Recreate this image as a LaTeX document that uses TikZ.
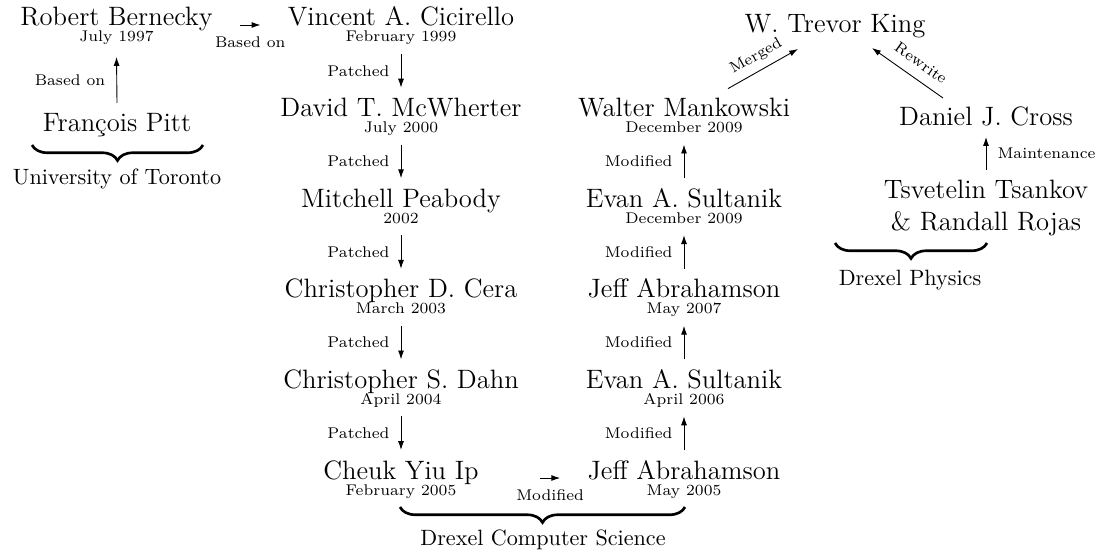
\documentclass[tikz,border=0pt]{standalone}
\usetikzlibrary{arrows.meta,decorations.pathreplacing}
\begin{document}
\begin{tikzpicture}[x=0.4515pt,y=-0.4515pt,
  nm/.style={font=\large, anchor=base, inner sep=0pt},
  dt/.style={font=\scriptsize, anchor=base, inner sep=0pt},
  grplbl/.style={anchor=base, inner sep=0pt},
  lbl/.style={font=\scriptsize, inner sep=5pt},
  arr/.style={-{Latex[length=4pt,width=2.7pt]}},
  grp/.style={decorate, decoration={brace, mirror, amplitude=7pt}, line width=1.2pt}]
\useasboundingbox (0,0) rectangle (1101,550);
% left column
\node[nm] (rb) at (116.5,26) {Robert Bernecky};
\node[dt] (rbd) at (116.5,42) {July 1997};
\node[nm] (fp) at (117,132) {François Pitt};
% middle column
\node[nm] (vc) at (401,26) {Vincent A. Cicirello};
\node[dt] (vcd) at (401,42) {February 1999};
\node[nm] (dm) at (401,116.6) {David T. McWherter};
\node[dt] (dmd) at (401,132.6) {July 2000};
\node[nm] (mp) at (401,207.2) {Mitchell Peabody};
\node[dt] (mpd) at (401,223.2) {2002};
\node[nm] (cc) at (401,297.8) {Christopher D. Cera};
\node[dt] (ccd) at (401,313.8) {March 2003};
\node[nm] (cd) at (401,388.4) {Christopher S. Dahn};
\node[dt] (cdd) at (401,404.4) {April 2004};
\node[nm] (ch) at (401,479) {Cheuk Yiu Ip};
\node[dt] (chd) at (401,495) {February 2005};
% right column
\node[nm] (tk) at (835,33) {W. Trevor King};
\node[nm] (wm) at (684,116.6) {Walter Mankowski};
\node[dt] (wmd) at (684,132.6) {December 2009};
\node[nm] (es2) at (684,207.2) {Evan A. Sultanik};
\node[dt] (es2d) at (684,223.2) {December 2009};
\node[nm] (ja2) at (684,297.8) {Jeff Abrahamson};
\node[dt] (ja2d) at (684,313.8) {May 2007};
\node[nm] (es1) at (684,388.4) {Evan A. Sultanik};
\node[dt] (es1d) at (684,404.4) {April 2006};
\node[nm] (ja1) at (684,479) {Jeff Abrahamson};
\node[dt] (ja1d) at (684,495) {May 2005};
% physics
\node[nm] (dc) at (986,126) {Daniel J. Cross};
\node[nm] (ts) at (986,198) {Tsvetelin Tsankov};
\node[nm] (rr) at (986,230) {\& Randall Rojas};
% connectors
\draw[arr] ([shift={(0,-29)}]fp.base) -- node[lbl,left]{Based on} ([shift={(0,15)}]rbd.base);
\draw[arr] ([shift={(27,-1)}]rb.base east) -- node[lbl,below]{Based on} ([shift={(-27,-1)}]vc.base west);
\draw[arr] ([shift={(0,12)}]vcd.base) -- node[lbl,left]{Patched} ([shift={(0,-29)}]dm.base);
\draw[arr] ([shift={(0,12)}]dmd.base) -- node[lbl,left]{Patched} ([shift={(0,-29)}]mp.base);
\draw[arr] ([shift={(0,12)}]mpd.base) -- node[lbl,left]{Patched} ([shift={(0,-29)}]cc.base);
\draw[arr] ([shift={(0,12)}]ccd.base) -- node[lbl,left]{Patched} ([shift={(0,-29)}]cd.base);
\draw[arr] ([shift={(0,12)}]cdd.base) -- node[lbl,left]{Patched} ([shift={(0,-29)}]ch.base);
\draw[arr] ([shift={(61,-1)}]ch.base east) -- node[lbl,below]{Modified} ([shift={(-27,-1)}]ja1.base west);
\draw[arr] ([shift={(0,-29)}]ja1.base) -- node[lbl,left]{Modified} ([shift={(0,12)}]es1d.base);
\draw[arr] ([shift={(0,-29)}]es1.base) -- node[lbl,left]{Modified} ([shift={(0,12)}]ja2d.base);
\draw[arr] ([shift={(0,-29)}]ja2.base) -- node[lbl,left]{Modified} ([shift={(0,12)}]es2d.base);
\draw[arr] ([shift={(0,-29)}]es2.base) -- node[lbl,left]{Modified} ([shift={(0,12)}]wmd.base);
\draw[arr] ([shift={(44,-28)}]wm.base) -- node[lbl,sloped,above,inner sep=3pt]{Merged} ([shift={(-37,16)}]tk.base);
\draw[arr] ([shift={(-43,-28)}]dc.base) -- node[lbl,sloped,above,inner sep=4.5pt,pos=0.44]{Rewrite} ([shift={(37,15)}]tk.base);
\draw[arr] ([shift={(0,-28)}]ts.base) -- node[lbl,right]{Maintenance} ([shift={(0,11)}]dc.base);
% groups
\draw[grp] (32,145) -- (203,145);
\node[grplbl] (uot) at (117,184) {University of Toronto};
\draw[grp] (400,507) -- (685,507);
\node[grplbl] (dcs) at (543,545) {Drexel Computer Science};
\draw[grp] (835,243) -- (987,243);
\node[grplbl] (dph) at (910,285) {Drexel Physics};
\end{tikzpicture}
\end{document}
